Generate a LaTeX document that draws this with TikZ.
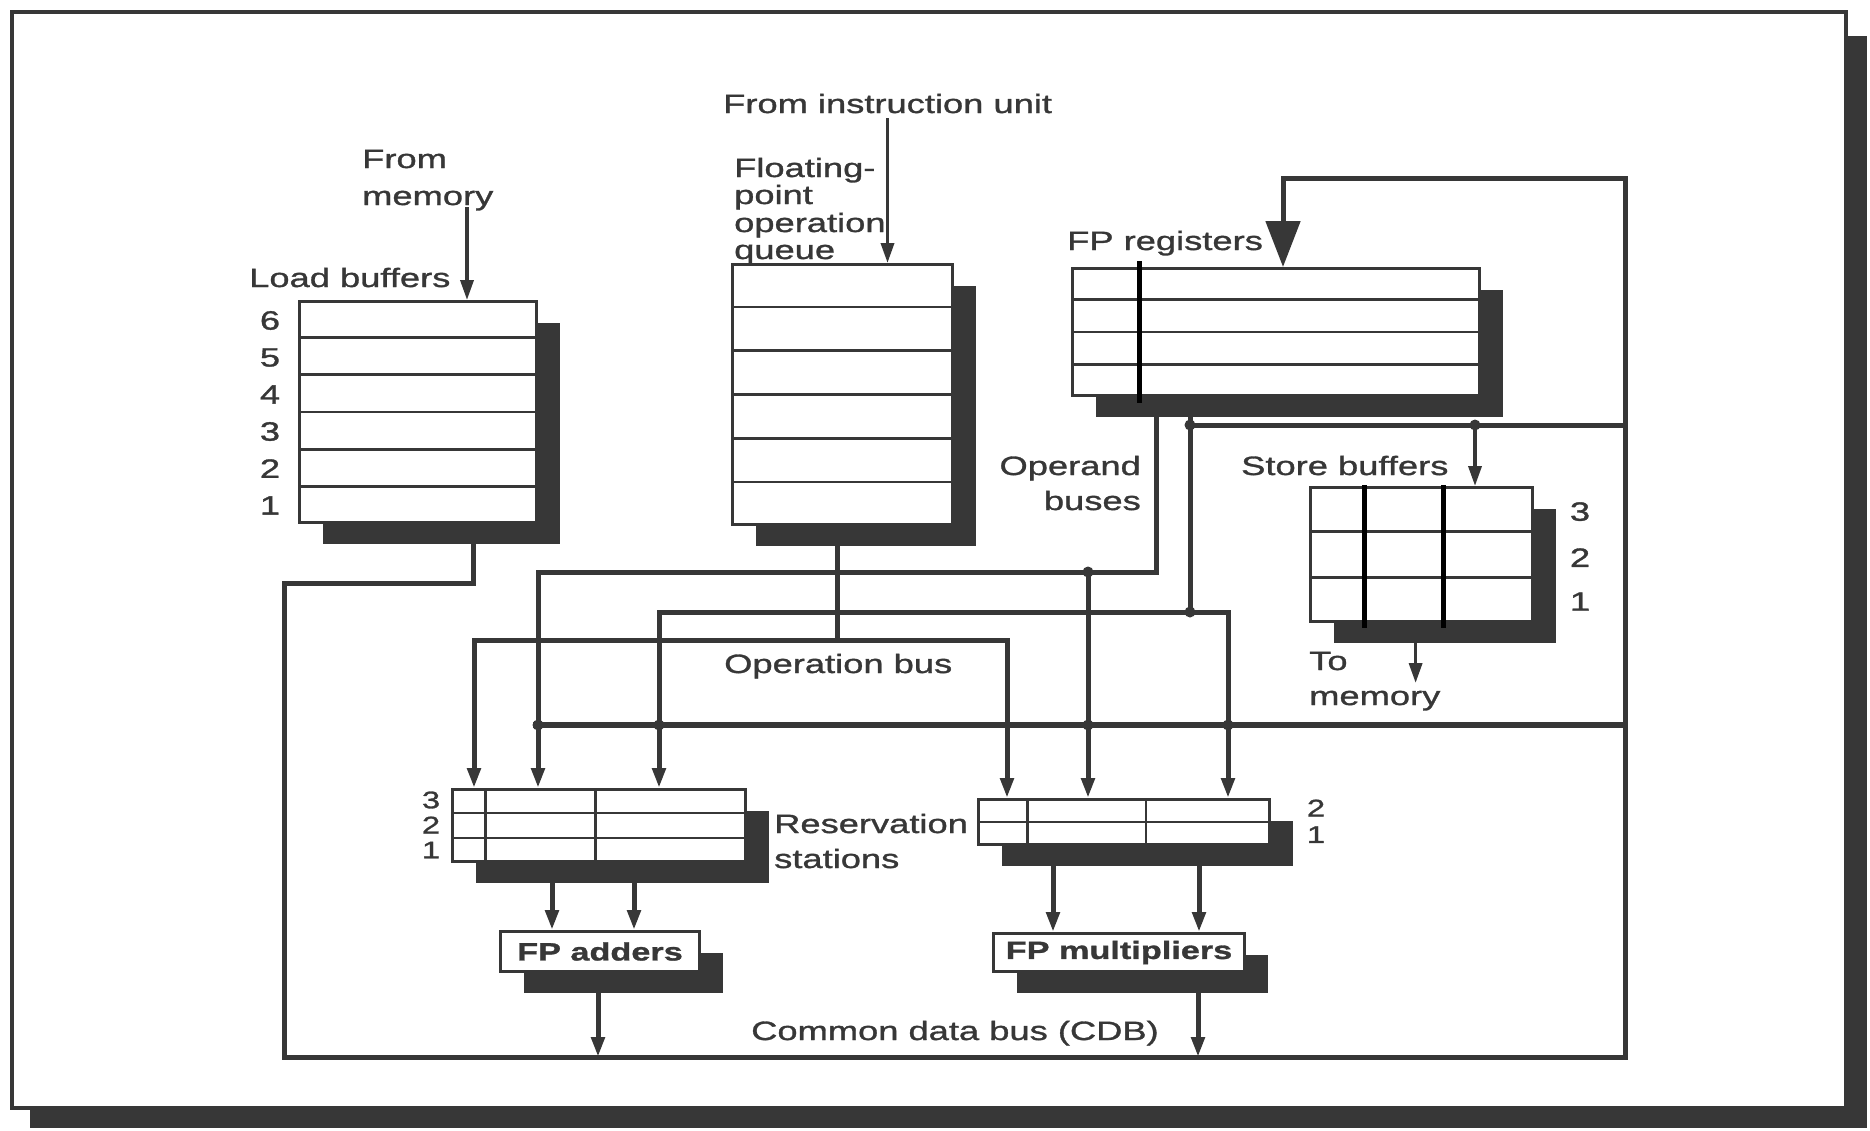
\documentclass[tikz,border=0pt]{standalone}
\usepackage{fontspec}
\setmainfont{Liberation Sans}[FakeStretch=1.37,FakeBold=1.2]
\usetikzlibrary{arrows.meta,calc,shadows}
\definecolor{ink}{RGB}{55,55,55}
\pgfdeclarelayer{background}
\pgfsetlayers{background,main}
\begin{document}
\begin{tikzpicture}[x=1pt,y=-1pt,
  lbl/.style={text=ink,inner sep=0pt,font=\fontsize{26.5}{30}\selectfont},
  bx/.style={draw=ink,line width=3pt,fill=white,inner sep=0pt,anchor=north west,
     drop shadow={shadow xshift=23pt,shadow yshift=-21pt,opacity=1,fill=ink}},
  fu/.style={bx,text=ink,font=\fontsize{25}{28}\selectfont\bfseries},
  rowl/.style={draw=ink,line width=2.5pt},
  blk/.style={draw=black,line width=5pt},
  bus/.style={draw=ink,line width=5pt},
  feed/.style={draw=ink,line width=3.5pt},
  arrowhd/.style={-{Triangle[length=20pt,width=13pt]}},
  jdot/.style={circle,fill=ink,inner sep=0pt,minimum size=11pt},
]
\useasboundingbox (0,0) rectangle (1870,1130);

% ---------- boxes ----------
\node[bx,minimum width=237pt,minimum height=221pt] (lb) at (298,300) {};
\node[bx,minimum width=220pt,minimum height=260pt] (fq) at (731,263) {};
\node[bx,minimum width=407pt,minimum height=127pt] (fr) at (1071,267) {};
\node[bx,minimum width=222pt,minimum height=134pt] (sb) at (1309,486) {};
\node[bx,minimum width=293pt,minimum height=72pt] (ra) at (451,788) {};
\node[bx,minimum width=291pt,minimum height=45pt] (rm) at (977,798) {};
\node[fu,minimum width=199pt,minimum height=40pt] (fa) at (499,930) {FP adders};
\node[fu,minimum width=251pt,minimum height=38pt] (fm) at (992,932) {FP multipliers};

% ---------- rows and columns ----------
\foreach \k in {1,...,5} {
  \draw[rowl] ($(lb.north west)!\k/6!(lb.south west)$) -- ($(lb.north east)!\k/6!(lb.south east)$);
  \draw[rowl] ($(fq.north west)!\k/6!(fq.south west)$) -- ($(fq.north east)!\k/6!(fq.south east)$);
}
\foreach \k in {1,2,3}
  \draw[rowl] ($(fr.north west)!\k/4!(fr.south west)$) -- ($(fr.north east)!\k/4!(fr.south east)$);
\foreach \k in {1,2} {
  \draw[rowl] ($(sb.north west)!\k/3!(sb.south west)$) -- ($(sb.north east)!\k/3!(sb.south east)$);
  \draw[rowl] ($(ra.north west)!\k/3!(ra.south west)$) -- ($(ra.north east)!\k/3!(ra.south east)$);
}
\foreach \f in {0.116,0.488}
  \draw[rowl] ($(ra.north west)!\f!(ra.north east)$) -- ($(ra.south west)!\f!(ra.south east)$);
\draw[rowl] ($(rm.north west)!0.5!(rm.south west)$) -- ($(rm.north east)!0.5!(rm.south east)$);
\foreach \f in {0.172,0.574}
  \draw[rowl] ($(rm.north west)!\f!(rm.north east)$) -- ($(rm.south west)!\f!(rm.south east)$);

% ---------- black marker lines ----------
\draw[blk] (1139,261) -- (1139,403);
\draw[blk] (1364,485) -- (1364,628);
\draw[blk] (1443,485) -- (1443,628);

% ---------- junction dots ----------
\node[jdot] (js) at (1475,425) {};
\node[jdot] (jr) at (1190,425) {};
\node[jdot] (j1) at (1088,572) {};
\node[jdot] (j2) at (1190,612) {};
\node[jdot] (d1) at (538,725) {};
\node[jdot] (d2) at (659,725) {};
\node[jdot] (d3) at (1088,725) {};
\node[jdot] (d4) at (1228,725) {};

% ---------- connectors (behind boxes) ----------
\begin{pgfonlayer}{background}
\fill[white] (0,0) rectangle (1870,1130);
\draw[ink,line width=4pt] (12,12) rectangle (1846,1108);
\fill[ink] (1848,36) rectangle (1867,1128);
\fill[ink] (30,1110) rectangle (1867,1128);

\coordinate (memsrc) at (467,207);
\draw[feed,arrowhd] (memsrc) -- (memsrc |- lb.north);
\coordinate (iusrc) at (887.5,118);
\draw[feed,arrowhd] (iusrc) -- (iusrc |- fq.north);

% load buffers -> CDB loop -> FP registers
\coordinate (lbo) at (473,530);
\coordinate (c1) at (473,583);
\coordinate (c2) at (284,583);
\coordinate (c3) at (284,1057);
\coordinate (c4) at (1625,1057);
\coordinate (c5) at (1625,178);
\coordinate (c6) at (1283,178);
\draw[bus,-{Triangle[length=46pt,width=34pt]}] (lbo) -- (c1) -- (c2) -- (c3) -- (c4) -- (c5) -- (c6) -- (c6 |- fr.north);

% CDB branch to store buffers
\coordinate (s1) at (1625,425);
\draw[bus] (s1) -- (jr.center);
\draw[feed,arrowhd] (js.center) -- (js.center |- sb.north);

% CDB to reservation stations
\coordinate (m0) at (533,725);
\coordinate (m1) at (1625,725);
\draw[bus,line width=5.5pt] (m0) -- (m1);

% operand bus 1
\coordinate (o1s) at (1156,400);
\coordinate (o1c) at (1156,572);
\coordinate (o1l) at (538,572);
\draw[bus,arrowhd] (o1s) -- (o1c) -- (o1l) -- (o1l |- ra.north);
\draw[bus,arrowhd] (j1.center) -- (j1.center |- rm.north);

% operand bus 2
\coordinate (o2s) at (1190,400);
\coordinate (o2l) at (659,612);
\coordinate (o2r) at (1228,612);
\draw[bus] (o2s) -- (j2.center);
\draw[bus,arrowhd] (j2.center) -- (o2l) -- (o2l |- ra.north);
\draw[bus,arrowhd] (j2.center) -- (o2r) -- (o2r |- rm.north);

% operation bus
\coordinate (ob) at (837.5,530);
\coordinate (obm) at (837.5,640);
\coordinate (obl) at (474,640);
\coordinate (obr) at (1007,640);
\draw[bus] (ob) -- (obm);
\draw[bus,arrowhd] (obm) -- (obl) -- (obl |- ra.north);
\draw[bus,arrowhd] (obm) -- (obr) -- (obr |- rm.north);

% reservation stations -> functional units
\coordinate (a1) at (552,870);
\coordinate (a2) at (634,870);
\coordinate (a3) at (1053,855);
\coordinate (a4) at (1199,855);
\draw[bus,arrowhd] (a1) -- (a1 |- fa.north);
\draw[bus,arrowhd] (a2) -- (a2 |- fa.north);
\draw[bus,arrowhd] (a3) -- (a3 |- fm.north);
\draw[bus,arrowhd] (a4) -- (a4 |- fm.north);

% functional units -> CDB
\coordinate (fao) at (598,985);
\coordinate (fmo) at (1198,985);
\draw[bus,arrowhd] (fao) -- (fao |- c3);
\draw[bus,arrowhd] (fmo) -- (fmo |- c3);

% store buffers -> memory
\coordinate (sbo) at (1415.6,635);
\coordinate (tomem) at (1415.6,683);
\draw[feed,arrowhd] (sbo) -- (tomem);
\end{pgfonlayer}

% ---------- labels ----------
\node[lbl,anchor=base west] (tiu) at (723,113) {From instruction unit};
\node[lbl,anchor=base west] (tfm1) at (362,168) {From};
\node[lbl,anchor=base west] (tfm2) at (362,205) {memory};
\node[lbl,anchor=base west] (tq1) at (734,177) {Floating-};
\node[lbl,anchor=base west] (tq2) at (734,204) {point};
\node[lbl,anchor=base west] (tq3) at (734,232) {operation};
\node[lbl,anchor=base west] (tq4) at (734,259) {queue};
\node[lbl,anchor=base west] (tlb) at (249,287) {Load buffers};
\node[lbl,anchor=base west] (tfr) at (1067,250) {FP registers};
\node[lbl,anchor=base east] (top1) at (1141,475) {Operand};
\node[lbl,anchor=base east] (top2) at (1141,510) {buses};
\node[lbl,anchor=base west] (tsb) at (1241,475) {Store buffers};
\node[lbl,anchor=base west] (tto1) at (1309,670) {To};
\node[lbl,anchor=base west] (tto2) at (1309,705) {memory};
\node[lbl,anchor=base west] (tob) at (724,673) {Operation bus};
\node[lbl,anchor=base west] (trs1) at (774,833) {Reservation};
\node[lbl,anchor=base west] (trs2) at (774,868) {stations};
\node[lbl,anchor=base west] (tcdb) at (751,1040) {Common data bus (CDB)};

% ---------- numbers ----------
\foreach \n [count=\i] in {6,5,4,3,2,1}
  \node[lbl] (nl\n) at (270,{300+37*(\i-0.5)+2}) {\n};
\foreach \n/\y in {3/511.6,2/557.6,1/601.6}
  \node[lbl] (ns\n) at (1580,\y) {\n};
\foreach \n/\y in {3/800,2/825,1/850}
  \node[lbl,font=\fontsize{24}{26}\selectfont] (na\n) at (431,\y) {\n};
\foreach \n/\y in {2/808,1/834.6}
  \node[lbl,font=\fontsize{24}{26}\selectfont] (nm\n) at (1316,\y) {\n};
\end{tikzpicture}
\end{document}
